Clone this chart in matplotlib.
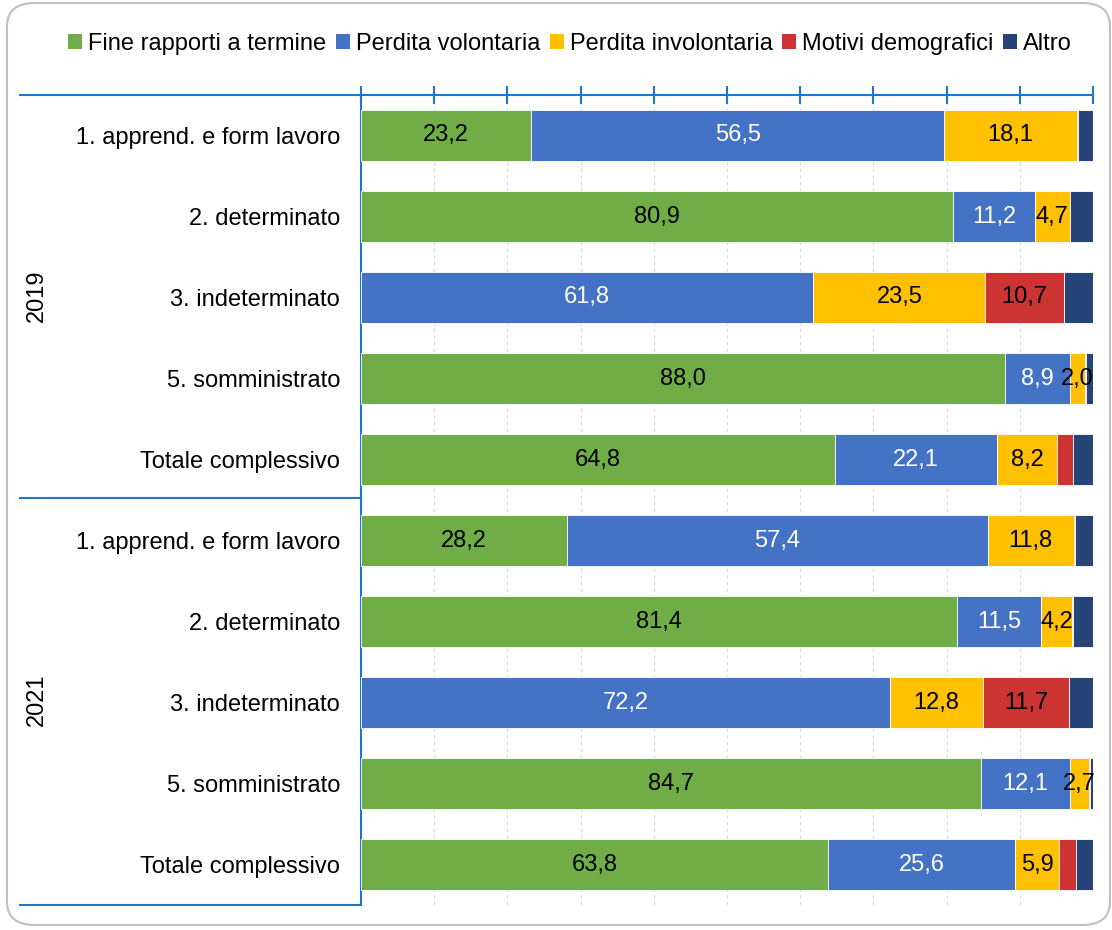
import matplotlib.pyplot as plt
from matplotlib.patches import Patch, FancyBboxPatch
from matplotlib.lines import Line2D

plt.rcParams['font.family'] = ['Liberation Sans', 'DejaVu Sans']

# categorie (dall'alto verso il basso)
categorie = ['1. apprend. e form lavoro', '2. determinato', '3. indeterminato',
             '5. somministrato', 'Totale complessivo'] * 2
anni = ['2019', '2021']

serie = ['Fine rapporti a termine', 'Perdita volontaria', 'Perdita involontaria',
         'Motivi demografici', 'Altro']

fine_termine = [23.2, 80.9, 0.0, 88.0, 64.8, 28.2, 81.4, 0.0, 84.7, 63.8]
perdita_vol = [56.5, 11.2, 61.8, 8.9, 22.1, 57.4, 11.5, 72.2, 12.1, 25.6]
perdita_invol = [18.1, 4.7, 23.5, 2.0, 8.2, 11.8, 4.2, 12.8, 2.7, 5.9]
motivi_demo = [0.1, 0.1, 10.7, 0.1, 2.1, 0.2, 0.1, 11.7, 0.1, 2.4]
altro = [2.1, 3.1, 4.0, 1.0, 2.8, 2.4, 2.8, 3.3, 0.4, 2.3]

colori = ['#70AD47', '#4472C4', '#FFC000', '#CC3333', '#264478']
col_testo = ['black', 'white', 'black', 'black', None]
soglia = [2.0, 2.0, 2.0, 5.0, None]   # sotto soglia niente etichetta
blu_assi = '#1F77CC'
fs = 17

W, H = 1112, 930
fig = plt.figure(figsize=(W / 100, H / 100), dpi=100)

# cornice arrotondata
fig.patches.append(FancyBboxPatch((7 / W, 5 / H), 1103 / W, 922 / H,
                                  boxstyle='round,pad=0,rounding_size=0.025',
                                  transform=fig.transFigure, fill=False,
                                  edgecolor='#BFBFBF', linewidth=1.5))

x0, x1, y_top, y_bot = 361, 1093, 95, 905
ax = fig.add_axes([x0 / W, 1 - y_bot / H, (x1 - x0) / W, (y_bot - y_top) / H])

valori = [fine_termine, perdita_vol, perdita_invol, motivi_demo, altro]
ypos = list(range(len(categorie)))
left = [0.0] * len(categorie)
for s, vals in enumerate(valori):
    ax.barh(ypos, vals, left=left, height=0.62, color=colori[s],
            edgecolor='white', linewidth=0.6, zorder=3)
    if col_testo[s] is not None:
        for i, v in enumerate(vals):
            if v >= soglia[s]:
                ax.text(left[i] + v / 2, ypos[i], f'{v:.1f}'.replace('.', ','),
                        ha='center', va='center', fontsize=fs,
                        color=col_testo[s], zorder=4)
    left = [l + v for l, v in zip(left, vals)]

ax.set_xlim(0, 100)
ax.set_ylim(len(categorie) - 0.5, -0.5)
ax.set_xticks(range(0, 101, 10))
ax.xaxis.tick_top()
ax.tick_params(axis='x', which='both', direction='inout', length=13, width=1.5,
               color=blu_assi, labeltop=False, labelbottom=False, bottom=False)
ax.grid(axis='x', color='#D9D9D9', linestyle=(0, (3, 3)), linewidth=0.8, zorder=0)
ax.set_yticks(ypos)
ax.set_yticklabels(categorie, fontsize=fs)
ax.tick_params(axis='y', length=0, pad=15)
for lato in ['right', 'bottom']:
    ax.spines[lato].set_visible(False)
for lato in ['top', 'left']:
    ax.spines[lato].set_color(blu_assi)
    ax.spines[lato].set_linewidth(1.5)

# linee di separazione dei gruppi a sinistra
for yy in [y_top, 498, y_bot]:
    fig.add_artist(Line2D([20 / W, x0 / W], [1 - yy / H, 1 - yy / H],
                          color=blu_assi, linewidth=1.5))
for anno, yc in zip(anni, [296, 700]):
    fig.text(37 / W, 1 - yc / H, anno, rotation=90, ha='center', va='center',
             fontsize=fs)

handles = [Patch(facecolor=c, edgecolor='none') for c in colori]
fig.legend(handles, serie, loc='center', bbox_to_anchor=(570 / W, 1 - 44 / H),
           ncol=5, frameon=False, fontsize=fs, handlelength=0.6,
           handleheight=0.6, handletextpad=0.25, columnspacing=0.4,
           borderaxespad=0)

fig.savefig('out.png', dpi=100)
